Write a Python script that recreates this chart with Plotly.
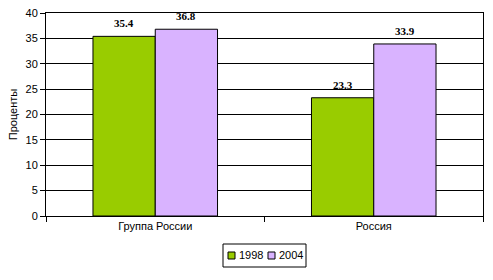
import plotly.graph_objects as go

categories = ["Группа России", "Россия"]
years = ["1998", "2004"]
values_1998 = [35.4, 23.3]
values_2004 = [36.8, 33.9]
colors = ["#99CC00", "#D9B3FF"]

BARGAP = 0.43
PLOT_W = 437.0
cat_w = PLOT_W / len(categories)
bar_w = cat_w * (1 - BARGAP) / len(years)

fig = go.Figure()
annotations = []
for k, (name, vals, col) in enumerate(zip(years, [values_1998, values_2004], colors)):
    fig.add_trace(go.Bar(
        x=categories, y=vals, name=name,
        marker=dict(color=col, line=dict(color="black", width=1)),
        showlegend=False,
    ))
    shift = (k - (len(years) - 1) / 2) * bar_w
    for c, v in zip(categories, vals):
        annotations.append(dict(x=c, y=v, xref="x", yref="y", text=f"<b>{v:.1f}</b>",
                                showarrow=False, xshift=shift, yshift=5, yanchor="bottom",
                                font=dict(family="Liberation Serif", size=11, color="black")))

# custom compact legend (Excel-style)
def px_x(p):
    return (p - 46) / 437.0

def px_y(p):
    return (216 - p) / 203.0

shapes = [dict(type="rect", xref="paper", yref="paper",
               x0=px_x(223), x1=px_x(306), y0=px_y(267), y1=px_y(244),
               line=dict(color="black", width=1), fillcolor="white")]
item_x = [228, 268]
for i, (name, col) in enumerate(zip(years, colors)):
    sx = item_x[i]
    shapes.append(dict(type="rect", xref="paper", yref="paper",
                       x0=px_x(sx), x1=px_x(sx + 7), y0=px_y(259), y1=px_y(252),
                       line=dict(color="black", width=1), fillcolor=col))
    annotations.append(dict(text=name, xref="paper", yref="paper",
                            x=px_x(sx + 9), y=px_y(255.5), xanchor="left", yanchor="middle",
                            showarrow=False, font=dict(size=11, color="black")))

fig.update_layout(
    width=493, height=280,
    margin=dict(l=46, r=10, t=13, b=64, autoexpand=False),
    paper_bgcolor="white", plot_bgcolor="white",
    barmode="group", bargap=BARGAP, bargroupgap=0,
    font=dict(family="Liberation Sans, Arial", size=11, color="black"),
    showlegend=False,
    shapes=shapes, annotations=annotations,
)
fig.update_yaxes(range=[0, 40], dtick=5, showgrid=True, gridcolor="black", gridwidth=1,
                 showline=True, linecolor="black", mirror=True, ticks="outside", ticklen=5,
                 tickcolor="black", zeroline=False,
                 title=dict(text="Проценты", standoff=5, font=dict(size=11)))
fig.update_xaxes(showline=True, linecolor="black", mirror=True, ticks="outside",
                 tickson="boundaries", ticklen=5, tickcolor="black")

fig.write_html("out.html")
